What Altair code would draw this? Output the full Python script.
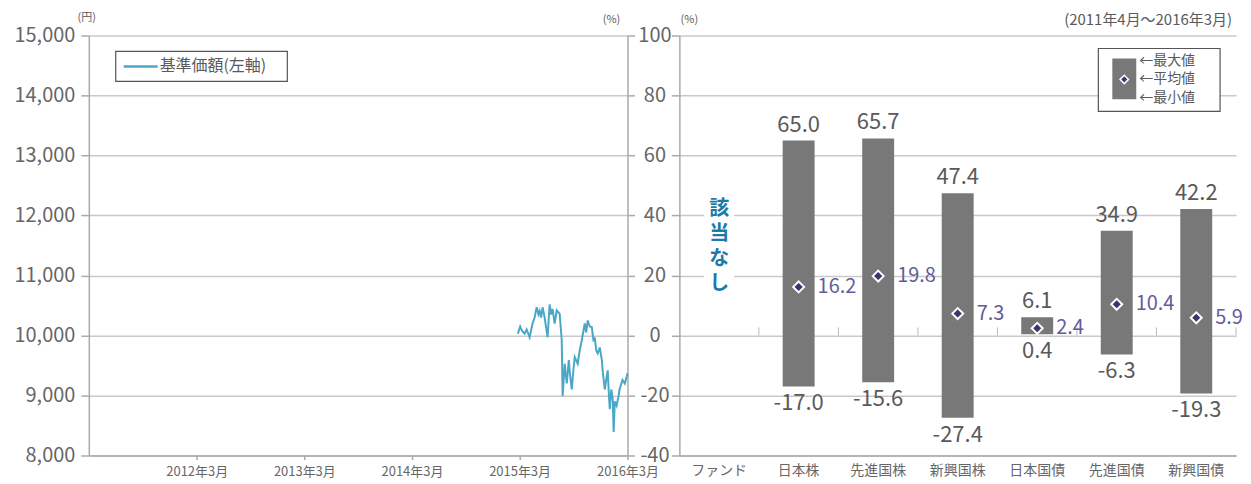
import altair as alt
import pandas as pd

FONT = "Noto Sans CJK JP"

# ---------------- Left chart data: NAV (基準価額) ----------------
series_name = "基準価額(左軸)"
nav_dates = [
    "2015-03-25", "2015-04-02", "2015-04-08", "2015-04-17", "2015-04-24",
    "2015-05-04", "2015-05-14", "2015-05-21", "2015-05-28", "2015-06-03",
    "2015-06-07", "2015-06-12", "2015-06-17", "2015-06-24", "2015-07-04",
    "2015-07-11", "2015-07-16", "2015-07-21", "2015-07-28", "2015-08-04",
    "2015-08-14", "2015-08-21", "2015-08-24", "2015-08-31", "2015-09-07",
    "2015-09-14", "2015-09-18", "2015-09-24", "2015-09-29", "2015-10-04",
    "2015-10-14", "2015-10-21", "2015-10-28", "2015-11-07", "2015-11-12",
    "2015-11-17", "2015-11-24", "2015-12-01", "2015-12-07", "2015-12-11",
    "2015-12-16", "2015-12-21", "2015-12-28", "2016-01-04", "2016-01-08",
    "2016-01-14", "2016-01-20", "2016-01-24", "2016-01-28", "2016-01-31",
    "2016-02-05", "2016-02-10", "2016-02-13", "2016-02-17", "2016-02-23",
    "2016-03-01", "2016-03-04", "2016-03-14", "2016-03-22", "2016-03-28",
    "2016-03-31",
]
nav_values = [
    10030, 10150, 10080, 10030, 10100,
    9970, 10200, 10300, 10470, 10350,
    10410, 10300, 10470, 10300, 9970,
    10520, 10350, 10440, 10200, 10420,
    10360, 9920, 8990, 9530, 9200,
    9590, 9350, 9100, 9400, 9640,
    9530, 9750, 9920, 10200, 10050,
    10250, 10150, 10140, 9900, 9970,
    9750, 9700, 9800, 9590, 9350,
    9100, 9300, 9420, 9000, 8770,
    9100, 8940, 8390, 8900, 8830,
    9000, 9100, 9260, 9200, 9310,
    9370,
]
year_ticks = [2012, 2013, 2014, 2015, 2016]
yen_ticks = [8000, 9000, 10000, 11000, 12000, 13000, 14000, 15000]
pct_ticks = [-40, -20, 0, 20, 40, 60, 80, 100]

# ---------------- Right chart data: ranges ----------------
categories = ["ファンド", "日本株", "先進国株", "新興国株", "日本国債", "先進国債", "新興国債"]
asset_classes = ["日本株", "先進国株", "新興国株", "日本国債", "先進国債", "新興国債"]
max_vals = [65.0, 65.7, 47.4, 6.1, 34.9, 42.2]
mean_vals = [16.2, 19.8, 7.3, 2.4, 10.4, 5.9]
min_vals = [-17.0, -15.6, -27.4, 0.4, -6.3, -19.3]
no_data_chars = ["該", "当", "な", "し"]
no_data_pos = [42.0, 33.7, 25.4, 17.1]
period_label = "(2011年4月～2016年3月)"
legend_labels = ["←最大値", "←平均値", "←最小値"]

# ---------------- styling ----------------
LINE = "#4aa7c6"
BAR = "#787878"
TXT = "#5a5a5a"
MEAN_TXT = "#625c9c"
DIAMOND = "#3c3470"
W1, W2, H = 540, 558, 421
HYPHEN = "replace(datum.label, '\u2212', '-')"

nav_df = pd.DataFrame({"date": nav_dates, "value": nav_values})
one = pd.DataFrame({"k": [0]})

line = alt.Chart(nav_df).mark_line(strokeWidth=2, color=LINE).encode(
    x=alt.X(
        "date:T",
        scale=alt.Scale(domain=[alt.DateTime(year=2011, month=3, date=31),
                                alt.DateTime(year=2016, month=3, date=31)]),
        axis=alt.Axis(values=[alt.DateTime(year=y, month=3, date=31) for y in year_ticks],
                      format="%Y年%-m月", title=None, grid=False, tickSize=4,
                      labelFontSize=13, labelPadding=6, labelFlush=False),
    ),
    y=alt.Y(
        "value:Q",
        scale=alt.Scale(domain=[8000, 15000], nice=False, zero=False),
        axis=alt.Axis(values=yen_ticks, format=",.0f", title=None, tickSize=8,
                      labelPadding=6, labelFontSize=20, grid=True),
    ),
)

pct_axis = alt.Chart(pd.DataFrame({"pct": [-40, 100]})).mark_point(opacity=0).encode(
    y=alt.Y("pct:Q", scale=alt.Scale(domain=[-40, 100], nice=False),
            axis=alt.Axis(orient="right", values=pct_ticks, title=None, grid=False,
                          tickSize=7, labelPadding=20, labelAlign="center",
                          labelFontSize=20, labelExpr=HYPHEN)),
)

yen_unit = alt.Chart(one).mark_text(fontSize=11, color=TXT).encode(
    x=alt.value(-2), y=alt.value(-18), text=alt.value("(円)"))
pct_unit_left = alt.Chart(one).mark_text(fontSize=11, color=TXT).encode(
    x=alt.value(W1 - 16), y=alt.value(-16), text=alt.value("(%)"))

# manual legend box for the line
lg_box = alt.Chart(one).mark_rect(fill="white", stroke="#555", strokeWidth=1.2).encode(
    x=alt.value(27), x2=alt.value(199), y=alt.value(16), y2=alt.value(46))
lg_line = alt.Chart(one).mark_rule(color=LINE, strokeWidth=2.5).encode(
    x=alt.value(35), x2=alt.value(69), y=alt.value(31))
lg_text = alt.Chart(one).mark_text(align="left", fontSize=16, color=TXT).encode(
    x=alt.value(71), y=alt.value(31), text=alt.value(series_name))

left = alt.layer(line, pct_axis, yen_unit, pct_unit_left, lg_box, lg_line,
                 lg_text).resolve_scale(y="independent").properties(width=W1, height=H)

# ---------------- right chart ----------------
stats_df = pd.DataFrame({"category": asset_classes, "max": max_vals,
                         "mean": mean_vals, "min": min_vals})
stats_df["max_label"] = [f"{v:.1f}" for v in max_vals]
stats_df["mean_label"] = [f"{v:.1f}" for v in mean_vals]
stats_df["min_label"] = [f"{v:.1f}" for v in min_vals]

xenc = alt.X("category:N", sort=categories,
             scale=alt.Scale(domain=categories, paddingInner=0, paddingOuter=0),
             axis=alt.Axis(title=None, labelAngle=0, ticks=False, labelFontSize=14,
                           labelPadding=8))
yscale = alt.Scale(domain=[-40, 100], nice=False)

bars = alt.Chart(stats_df).mark_bar(size=32, color=BAR).encode(
    x=xenc,
    y=alt.Y("max:Q", scale=yscale,
            axis=alt.Axis(values=pct_ticks, labels=False, title=None, tickSize=8,
                          grid=True)),
    y2="min:Q",
)
max_text = alt.Chart(stats_df).mark_text(baseline="bottom", dy=-4, fontSize=22,
                                         color=TXT).encode(
    x=xenc, y=alt.Y("max:Q", scale=yscale), text="max_label:N")
min_text = alt.Chart(stats_df).mark_text(baseline="top", dy=7, fontSize=22,
                                         color=TXT).encode(
    x=xenc, y=alt.Y("min:Q", scale=yscale), text="min_label:N")
mean_pt = alt.Chart(stats_df).mark_point(shape="diamond", filled=True, size=120,
                                         color=DIAMOND, stroke="white",
                                         strokeWidth=2, opacity=1).encode(
    x=xenc, y=alt.Y("mean:Q", scale=yscale))
mean_text = alt.Chart(stats_df).mark_text(align="left", dx=19, fontSize=20,
                                          color=MEAN_TXT).encode(
    x=xenc, y=alt.Y("mean:Q", scale=yscale), text="mean_label:N")

bw = W2 / len(categories)
zero_ticks = alt.Chart(stats_df).mark_rule(color="#bbbbbb", strokeWidth=1,
                                           xOffset=-bw / 2).encode(
    x=xenc, y=alt.datum(0), y2=alt.datum(2.7))
zero_tick_end = alt.Chart(stats_df.tail(1)).mark_rule(color="#bbbbbb", strokeWidth=1,
                                                      xOffset=bw / 2).encode(
    x=xenc, y=alt.datum(0), y2=alt.datum(2.7))

na_bg_df = pd.DataFrame({"category": ["ファンド"], "top": [46], "bottom": [14]})
na_bg = alt.Chart(na_bg_df).mark_bar(size=30, color="white").encode(
    x=xenc, y=alt.Y("top:Q", scale=yscale), y2="bottom:Q")
na_df = pd.DataFrame({"category": ["ファンド"] * len(no_data_chars),
                      "pos": no_data_pos, "label": no_data_chars})
na_text = alt.Chart(na_df).mark_text(fontSize=20, fontWeight="bold",
                                     color="#1c7aa8").encode(
    x=xenc, y=alt.Y("pos:Q", scale=yscale), text="label:N")

period = alt.Chart(one).mark_text(align="right", fontSize=15, color=TXT).encode(
    x=alt.value(W2 - 4), y=alt.value(-16), text=alt.value(period_label))
pct_unit_right = alt.Chart(one).mark_text(fontSize=11, color=TXT).encode(
    x=alt.value(10), y=alt.value(-16), text=alt.value("(%)"))

leg_box = alt.Chart(one).mark_rect(fill="white", stroke="#555", strokeWidth=1.2).encode(
    x=alt.value(420), x2=alt.value(542), y=alt.value(13), y2=alt.value(76))
leg_bar = alt.Chart(one).mark_rect(fill=BAR).encode(
    x=alt.value(434), x2=alt.value(458), y=alt.value(23), y2=alt.value(64))
leg_pt = alt.Chart(one).mark_point(shape="diamond", filled=True, size=70, color=DIAMOND,
                                   stroke="white", strokeWidth=1.5, opacity=1).encode(
    x=alt.value(446), y=alt.value(44))
leg_df = pd.DataFrame({"label": legend_labels, "ypos": [26, 44, 63]})
leg_text = alt.Chart(leg_df).mark_text(align="left", fontSize=14, color=TXT).encode(
    x=alt.value(461), y=alt.Y("ypos:Q", scale=alt.Scale(domain=[0, H], range=[0, H]),
                              axis=None),
    text="label:N")

right = alt.layer(
    bars, zero_ticks, zero_tick_end, max_text, min_text, mean_pt, mean_text,
    na_bg, na_text, period, pct_unit_right, leg_box, leg_bar, leg_pt,
).properties(width=W2, height=H)

right_full = alt.layer(right, leg_text).resolve_scale(y="independent")

chart = alt.hconcat(left, right_full, spacing=52, bounds="flush").properties(
    padding={"left": 5, "top": 3, "right": 0, "bottom": 0}
).configure_axis(
    labelColor="#666", domainColor="#aaaaaa", tickColor="#aaaaaa",
    gridColor="#c9c9c9", labelFont=FONT, domainWidth=1.5, gridWidth=1.5,
    tickWidth=1.5,
).configure_view(stroke=None).configure_text(font=FONT)

chart.save("out.html", embed_options={"renderer": "svg", "actions": False})
